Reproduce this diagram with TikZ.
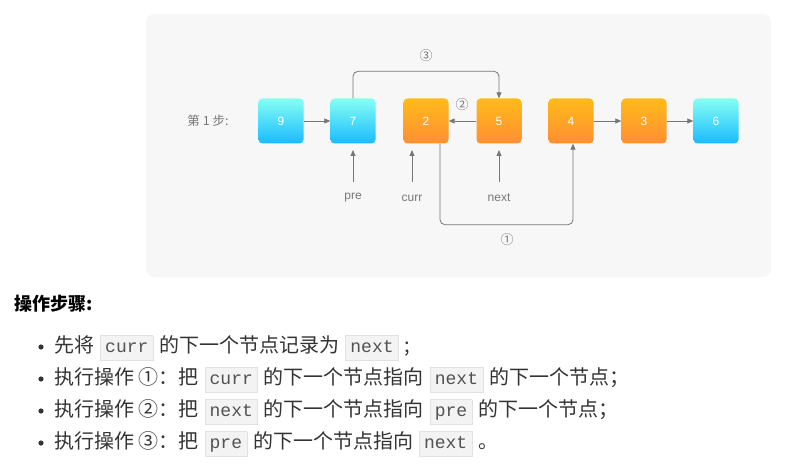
\documentclass[tikz,border=0pt]{standalone}
\usepackage{fontspec}
\setmainfont{Liberation Sans}
\newfontfamily\cjk{Noto Sans CJK SC}
\newfontfamily\monof{Liberation Mono}
\usetikzlibrary{arrows.meta}
\definecolor{panel}{HTML}{F7F7F7}
\definecolor{codebg}{HTML}{F3F3F3}
\definecolor{codebd}{HTML}{E2E2E2}
\definecolor{ln}{HTML}{777777}
\definecolor{txt}{HTML}{333333}
\newcommand{\cd}[1]{\hspace{6pt}{\setlength{\fboxsep}{4.5pt}\setlength{\fboxrule}{0.5pt}\fcolorbox{codebd}{codebg}{\monof\fontsize{18}{18}\selectfont\color{txt!85!white}\vphantom{Ag}#1}}\hspace{6pt}}
\begin{document}
\begin{tikzpicture}[x=1pt,y=-1pt,
  nodebox/.style={minimum width=45pt,minimum height=45pt,rounded corners=4pt,text=white,font=\fontsize{12}{12}\selectfont,inner sep=0pt},
  blue/.style={nodebox,top color=cyan!45!white!95!green,bottom color=blue!30!cyan!90!white},
  orng/.style={nodebox,top color=orange!60!yellow!90!white,bottom color=orange!90!red!80!white},
  arr/.style={draw=ln,line width=0.8pt,-{Triangle[length=6pt,width=5pt]}},
  lbl/.style={text=ln,font=\fontsize{12}{12}\selectfont},
  line/.style={font=\cjk\fontsize{20}{21}\selectfont,text=txt,anchor=west,inner sep=0pt}]
\useasboundingbox (0,0) rectangle (795,468);
\fill[panel,rounded corners=8pt] (146,14) rectangle (771,277);
\node[lbl,font=\cjk\fontsize{12.5}{13}\selectfont] (step) at (208,121) {第 1 步:};
\node[blue] (n9) at (281,121) {9};
\node[blue] (n7) at (353,121) {7};
\node[orng] (n2) at (426,121) {2};
\node[orng] (n5) at (499,121) {5};
\node[orng] (n4) at (571,121) {4};
\node[orng] (n3) at (644,121) {3};
\node[blue] (n6) at (716,121) {6};
\draw[arr] (n9) -- (n7);
\draw[arr] (n5) -- (n2);
\draw[arr] (n4) -- (n3);
\draw[arr] (n3) -- (n6);
\draw[arr,rounded corners=5pt] (n7.north) -- ++(0,-27) -| (n5.north);
\draw[arr,rounded corners=5pt] ([xshift=14pt]n2.south) -- ++(0,81) -| ([xshift=2pt]n4.south);
\node[lbl,font=\cjk\fontsize{13}{13}\selectfont] (c3) at (426,56) {③};
\node[lbl,font=\cjk\fontsize{13}{13}\selectfont] (c2) at (462,105) {②};
\node[lbl,font=\cjk\fontsize{13}{13}\selectfont] (c1) at (507,240) {①};
\node[lbl] (pre) at (353,198) {pre};
\node[lbl] (curr) at (412,198) {curr};
\node[lbl] (next) at (499,198) {next};
\coordinate (pa) at (353,150);
\coordinate (ca) at (412,150);
\coordinate (na) at (499,150);
\draw[arr] (353,182) -- (pa);
\draw[arr] (412,182) -- (ca);
\draw[arr] (499,182) -- (na);
\node[line,font=\cjk\bfseries\fontsize{18}{19}\selectfont,text=black] (h) at (14,304) {操作步骤:};
\foreach \yy in {347,379,411,443} \fill[txt] (41,\yy) circle (2.6pt);
\node[line] (l1) at (54,348) {先将\cd{curr}的下一个节点记录为\cd{next};};
\node[line] (l2) at (54,380) {执行操作 ①：把\cd{curr}的下一个节点指向\cd{next}的下一个节点；};
\node[line] (l3) at (54,412) {执行操作 ②：把\cd{next}的下一个节点指向\cd{pre}的下一个节点；};
\node[line] (l4) at (54,444) {执行操作 ③：把\cd{pre}的下一个节点指向\cd{next}。};
\end{tikzpicture}
\end{document}
